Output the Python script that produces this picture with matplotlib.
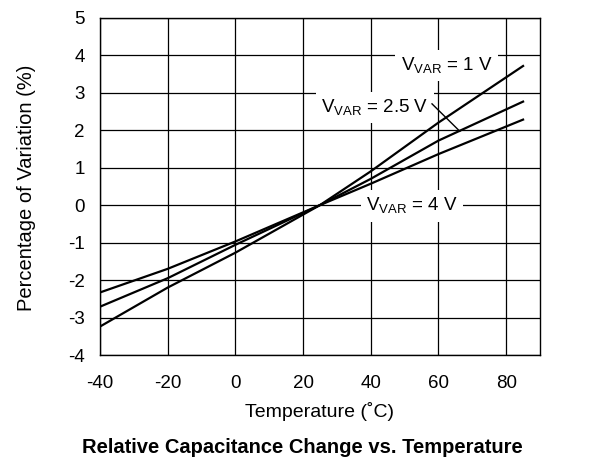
import matplotlib
matplotlib.use("Agg")
import matplotlib.pyplot as plt

# values
temps = [-40, -20, 0, 25, 40, 60, 85]
var_1v = [-3.24, -2.2, -1.27, 0.0, 0.9, 2.2, 3.71]
var_2v5 = [-2.71, -1.95, -1.06, 0.0, 0.7, 1.72, 2.76]
var_4v = [-2.33, -1.7, -0.97, 0.0, 0.57, 1.36, 2.28]

x_ticks = [-40, -20, 0, 20, 40, 60, 80]
y_ticks = [-4, -3, -2, -1, 0, 1, 2, 3, 4, 5]

plt.rcParams['font.family'] = ['Liberation Sans', 'DejaVu Sans']
plt.rcParams['axes.unicode_minus'] = False

fig = plt.figure(figsize=(6.02, 4.76), dpi=100)
ax = fig.add_axes([0.166, 0.254, 0.731, 0.709])

ax.plot(temps, var_1v, color='black', lw=1.6, zorder=3)
ax.plot(temps, var_2v5, color='black', lw=1.6, zorder=3)
ax.plot(temps, var_4v, color='black', lw=1.6, zorder=3)

ax.set_xlim(-40, 90)
ax.set_ylim(-4, 5)
ax.set_xticks(x_ticks)
ax.set_yticks(y_ticks)
ax.tick_params(length=0, labelsize=13.5)
ax.tick_params(axis='x', pad=14)
ax.tick_params(axis='y', pad=11)
ax.grid(True, color='black', lw=0.9)
ax.set_axisbelow(True)
for s in ax.spines.values():
    s.set_linewidth(1.0)

box = dict(facecolor='white', edgecolor='none', pad=4)
ax.text(62.5, 3.72, r'V$_{\mathregular{VAR}}$ = 1 V', fontsize=13.5,
        ha='center', va='center', bbox=box, zorder=4)
ax.text(41.2, 2.6, r'V$_{\mathregular{VAR}}$ = 2.5 V', fontsize=13.5,
        ha='center', va='center', bbox=box, zorder=4)
ax.text(52.2, -0.03, r'V$_{\mathregular{VAR}}$ = 4 V', fontsize=13.5,
        ha='center', va='center', bbox=box, zorder=4)
# leader line for the 2.5 V label
ax.plot([58.1, 66.3], [2.70, 1.97], color='black', lw=1.0, zorder=5)

ax.set_xlabel('Temperature (˚C)', fontsize=14)
ax.xaxis.set_label_coords(0.5, -0.14)
ax.set_ylabel('Percentage of Variation (%)', fontsize=14.5)
ax.yaxis.set_label_coords(-0.145, 0.495)

fig.text(0.502, 0.06, 'Relative Capacitance Change vs. Temperature',
         ha='center', va='center', fontsize=14.5, fontweight='bold')

fig.savefig('out.png', dpi=100)
